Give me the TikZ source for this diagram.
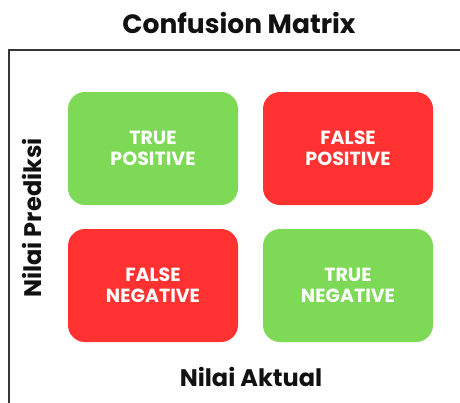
\documentclass[tikz,border=0pt]{standalone}
\usepackage{fontspec}
\setmainfont{Poppins}[BoldFont={* Bold}]
\definecolor{cmgreen}{HTML}{7ED957}
\definecolor{cmred}{HTML}{FF3131}
\definecolor{ink}{HTML}{111111}
\begin{document}
\begin{tikzpicture}[x=1pt,y=-1pt,
  cell/.style={rectangle, rounded corners=17pt, minimum width=170pt, minimum height=113pt,
    inner sep=0pt, align=center, text=white, font=\bfseries\fontsize{19}{20.5}\selectfont},
  goodcell/.style={cell, fill=cmgreen},
  badcell/.style={cell, fill=cmred},
  axislabel/.style={text=ink, font=\bfseries\fontsize{24}{26}\selectfont, inner sep=0pt},
  frameline/.style={draw=ink!85, line width=1.4pt}]
\clip (0,0) rectangle (460,402);
\fill[white] (0,0) rectangle (460,402);
\coordinate (fr) at (470,50);
\coordinate (fc) at (9,50);
\coordinate (fb) at (9,412);
\draw[frameline] (fr) -- (fc) -- (fb);
\node[text=ink, font=\bfseries\fontsize{26.5}{28}\selectfont, inner sep=0pt] (title) at (239,23) {Confusion Matrix};
\node[goodcell] (tp) at (153,148.5) {TRUE\\POSITIVE};
\node[badcell] (fp) at (348,148.5) {FALSE\\POSITIVE};
\node[badcell] (fn) at (153,285.5) {FALSE\\NEGATIVE};
\node[goodcell] (tn) at (348,285.5) {TRUE\\NEGATIVE};
\node[axislabel] (xlab) at (251,377) {Nilai Aktual};
\node[axislabel, rotate=90] (ylab) at (32,218) {Nilai Prediksi};
\end{tikzpicture}
\end{document}
